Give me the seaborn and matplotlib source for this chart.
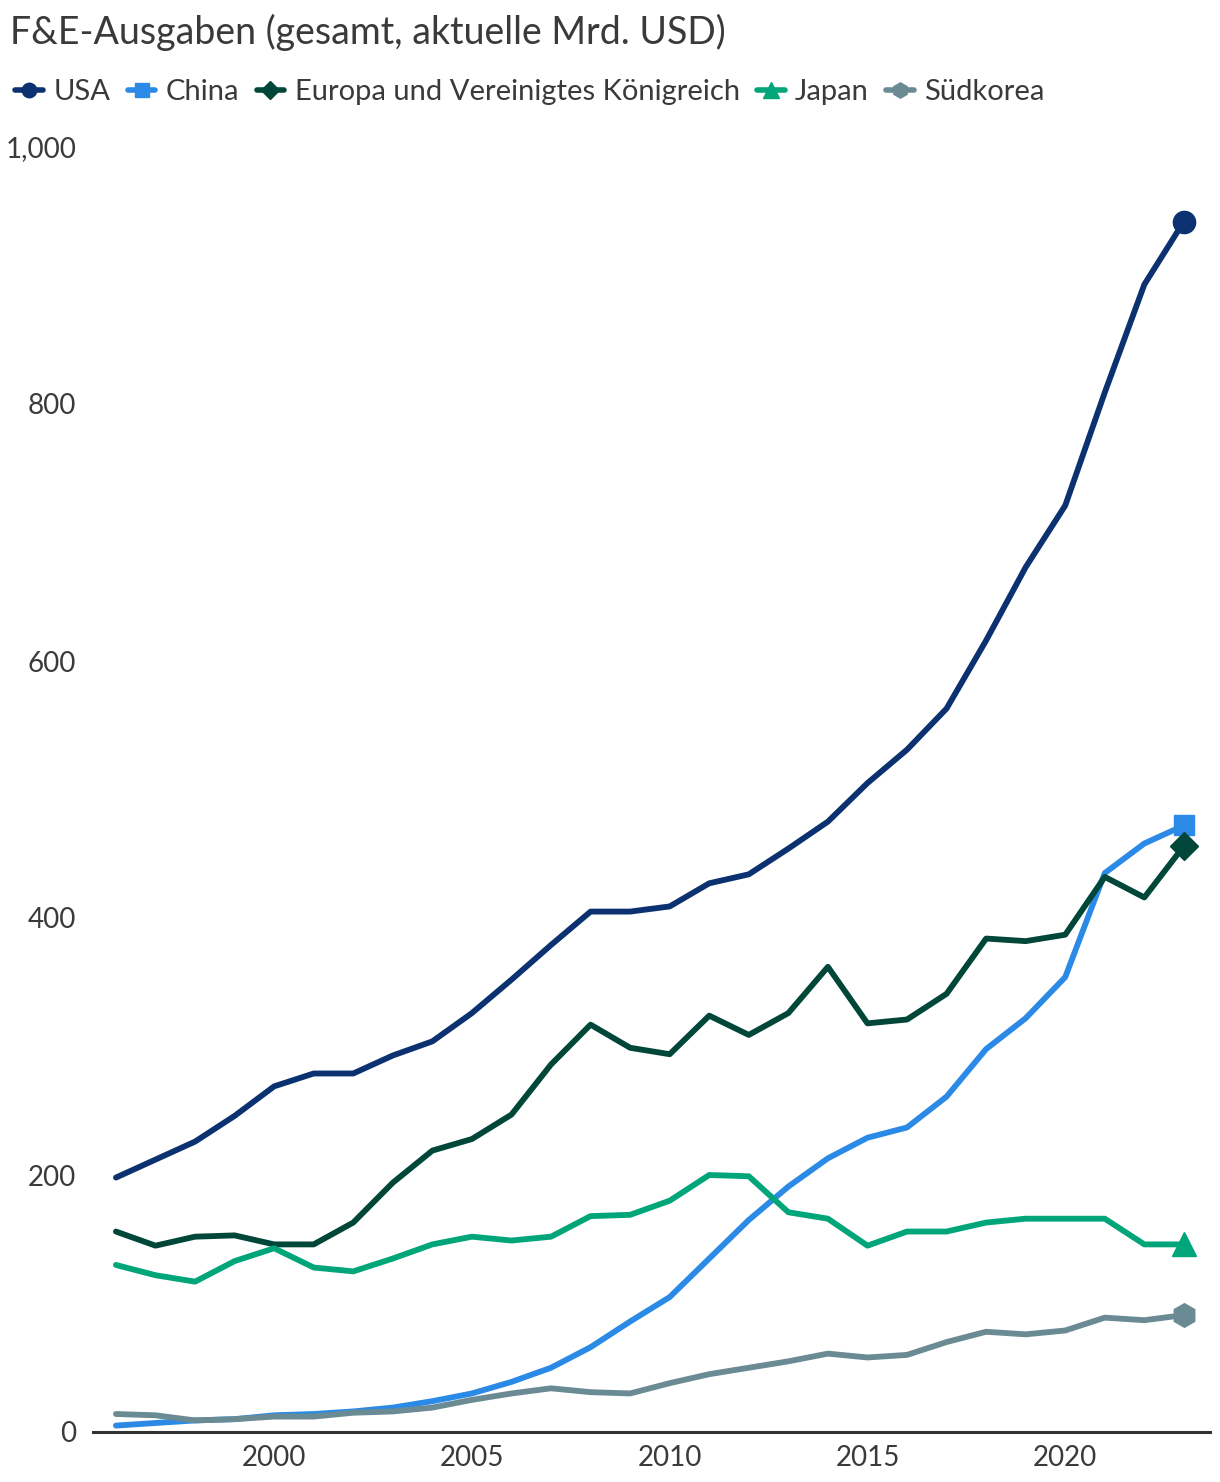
import matplotlib
matplotlib.use("Agg")
import matplotlib.pyplot as plt
from matplotlib.lines import Line2D
import seaborn as sns
import pandas as pd

years = list(range(1996, 2024))
usa = [198, 212, 226, 246, 269, 279, 279, 293, 304, 326, 352, 379, 405, 405, 409, 427, 434, 454, 475, 505, 531, 563, 616, 673, 721, 809, 893, 942]
china = [5, 7, 9, 10, 13, 14, 16, 19, 24, 30, 39, 50, 66, 86, 105, 135, 165, 191, 213, 229, 237, 261, 298, 322, 354, 435, 458, 472]
europe = [156, 145, 152, 153, 146, 146, 163, 194, 219, 228, 247, 286, 317, 299, 294, 324, 309, 326, 362, 318, 321, 341, 384, 382, 387, 432, 416, 456]
japan = [130, 122, 117, 133, 143, 128, 125, 135, 146, 152, 149, 152, 168, 169, 180, 200, 199, 171, 166, 145, 156, 156, 163, 166, 166, 166, 146, 146]
korea = [14, 13, 9, 10, 12, 12, 15, 16, 19, 25, 30, 34, 31, 30, 38, 45, 50, 55, 61, 58, 60, 70, 78, 76, 79, 89, 87, 91]

names = ["USA", "China", "Europa und Vereinigtes Königreich", "Japan", "Südkorea"]
series = [usa, china, europe, japan, korea]
colors = ["#0b3170", "#2a8ae6", "#00473a", "#00a57a", "#6a8a94"]
markers = ["o", "s", "D", "^", "h"]
msizes = [16, 15, 14, 17, 17]

title = "F&E-Ausgaben (gesamt, aktuelle Mrd. USD)"
yticks = [0, 200, 400, 600, 800, 1000]
ytick_labels = ["0", "200", "400", "600", "800", "1,000"]
xticks = [2000, 2005, 2010, 2015, 2020]

df = pd.DataFrame({
    "Jahr": years * len(names),
    "Wert": sum(series, []),
    "Region": sum([[n] * len(years) for n in names], []),
})

sns.set_theme(style="white")
plt.rcParams["font.family"] = ["Lato", "DejaVu Sans"]
TXT = "#3a3a3a"

fig = plt.figure(figsize=(12.2, 14.82), dpi=100)
ax = fig.add_axes([93 / 1220, 1 - 1432 / 1482, (1210 - 93) / 1220, (1432 - 147) / 1482])

palette = dict(zip(names, colors))
sns.lineplot(data=df, x="Jahr", y="Wert", hue="Region", palette=palette,
             linewidth=4.2, legend=False, ax=ax)

last = df[df["Jahr"] == years[-1]]
for n, c, m, s in zip(names, colors, markers, msizes):
    row = last[last["Region"] == n]
    ax.plot(row["Jahr"], row["Wert"], marker=m, color=c, markersize=s,
            linestyle="none", clip_on=False, zorder=5)

ax.set_xlim(1995.42, 2023.66)
ax.set_ylim(0, 1000)
ax.set_yticks(yticks)
ax.set_yticklabels(ytick_labels)
ax.set_xticks(xticks)
ax.set_xticklabels([str(x) for x in xticks])
ax.tick_params(axis="both", length=0, labelsize=20, labelcolor=TXT)
ax.tick_params(axis="x", pad=9)
ax.tick_params(axis="y", pad=12)
ax.set_xlabel("")
ax.set_ylabel("")
for sp in ["top", "right", "left"]:
    ax.spines[sp].set_visible(False)
ax.spines["bottom"].set_color("#333333")
ax.spines["bottom"].set_linewidth(2.2)
ax.grid(False)

fig.text(10 / 1220, 1 - 32 / 1482, title, fontsize=27,
         color=TXT, va="center", ha="left")

handles = [Line2D([0, 1], [0, 0], color=c, marker=m, markersize=s * 0.65, linewidth=4.0,
                  markevery=[1]) for c, m, s in zip(colors, markers, msizes)]
leg = fig.legend(handles, names, loc="center left", bbox_to_anchor=(-0.003, 1 - 92 / 1482),
                 ncol=5, frameon=False, handlelength=0.95, handletextpad=0.35,
                 columnspacing=0.6, labelcolor=TXT, borderaxespad=0.25,
                 prop={"size": 21})

fig.savefig("out.png", dpi=100)
